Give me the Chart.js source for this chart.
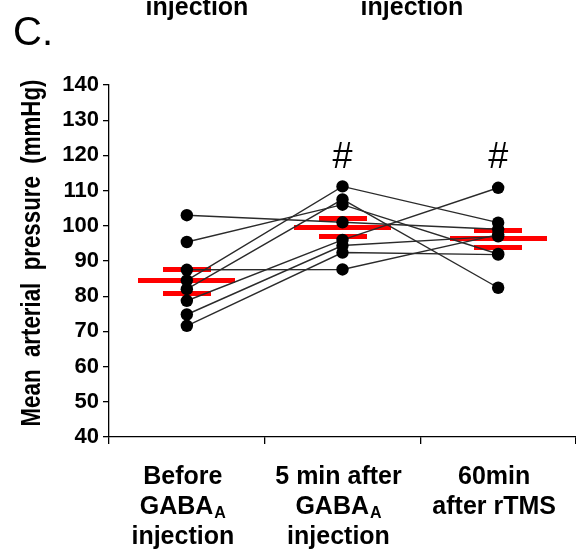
<!DOCTYPE html>
<html>
<head>
<meta charset="utf-8">
<script src="https://cdn.jsdelivr.net/npm/chart.js@4.4.1/dist/chart.umd.min.js"></script>
<style>
  body { margin: 0; background: #fff; }
  canvas { display: block; }
</style>
</head>
<body>
<canvas id="chart" width="576" height="551"></canvas>
<script>
// groups on the x axis
const categories = ['Before GABAA injection', '5 min after GABAA injection', '60min after rTMS'];
// label lines: [text, subscript]
const labelLines = [
  [['Before', ''], ['GABA', 'A'], ['injection', '']],
  [['5 min after', ''], ['GABA', 'A'], ['injection', '']],
  [['60min', ''], ['after rTMS', '']]
];

// one array per animal (mmHg)
const subject1 = [103.0, 101.0, 99.0];
const subject2 = [95.4, 106.0, 92.0];
const subject3 = [84.5, 111.2, 100.9];
const subject4 = [87.5, 87.6, 97.5];
const subject5 = [82.0, 107.5, 82.4];
const subject6 = [78.7, 96.0, 110.8];
const subject7 = [74.8, 94.4, 97.0];
const subject8 = [71.6, 92.4, 91.8];
const subjects = [subject1, subject2, subject3, subject4, subject5, subject6, subject7, subject8];

// group mean and mean +/- SEM
const meanValues = [84.6, 99.6, 96.3];
const semUpper = [87.7, 102.0, 98.8];
const semLower = [80.9, 97.0, 93.8];

const yTicks = [40, 50, 60, 70, 80, 90, 100, 110, 120, 130, 140];
const hashGroups = [1, 2];   // groups marked with #
const hashLevel = 116.5;

const FONT = '"Liberation Sans", Arial, Helvetica, sans-serif';

// red horizontal bars used as point styles
function barStyle(w, h) {
  const c = document.createElement('canvas');
  c.width = w;
  c.height = h;
  const g = c.getContext('2d');
  g.fillStyle = '#ff0000';
  g.fillRect(0, 0, w, h);
  return c;
}
const meanBar = barStyle(97, 5);
const semBar = barStyle(48, 5);

const textPlugin = {
  id: 'panelText',
  afterDraw(chart) {
    const ctx = chart.ctx;
    const xs = chart.scales.x;
    const ys = chart.scales.y;
    const bottom = chart.chartArea.bottom;
    ctx.save();
    ctx.fillStyle = '#000';
    ctx.textBaseline = 'alphabetic';

    // category labels with subscripts
    labelLines.forEach(function(lines, i) {
      const cx = xs.getPixelForValue(i) - 4;
      lines.forEach(function(parts, j) {
        const base = bottom + 47 + j * 30;
        ctx.font = 'bold 25px ' + FONT;
        const w1 = ctx.measureText(parts[0]).width;
        ctx.font = 'bold 16px ' + FONT;
        const w2 = parts[1] ? ctx.measureText(parts[1]).width + 1 : 0;
        let left = cx - (w1 + w2) / 2;
        ctx.textAlign = 'left';
        ctx.font = 'bold 25px ' + FONT;
        ctx.fillText(parts[0], left, base);
        if (parts[1]) {
          ctx.font = 'bold 16px ' + FONT;
          ctx.fillText(parts[1], left + w1 + 1, base + 4);
        }
      });
    });

    // significance marks
    ctx.textAlign = 'center';
    ctx.font = '36px ' + FONT;
    hashGroups.forEach(function(i) {
      ctx.fillText('#', xs.getPixelForValue(i), ys.getPixelForValue(hashLevel));
    });

    // panel letter and cut-off labels of the panel above
    ctx.textAlign = 'left';
    ctx.font = '40px ' + FONT;
    ctx.fillText('C.', 13, 45);
    ctx.textAlign = 'center';
    ctx.font = 'bold 25px ' + FONT;
    ctx.fillText('injection', 197, 15);
    ctx.fillText('injection', 412, 15);

    // y title, a bit condensed like the original
    const title = 'Mean  arterial  pressure  (mmHg)';
    ctx.font = 'bold 28px ' + FONT;
    const tw = ctx.measureText(title).width;
    ctx.translate(40, 253);
    ctx.rotate(-Math.PI / 2);
    ctx.scale(347 / tw, 1);
    ctx.fillText(title, 0, 0);
    ctx.restore();
  }
};

const datasets = subjects.map(function(s) {
  return {
    data: s,
    borderColor: '#2b2b2b',
    borderWidth: 1.4,
    pointRadius: 6.2,
    pointHoverRadius: 6.2,
    pointBackgroundColor: '#000',
    pointBorderWidth: 0,
    tension: 0,
    order: 1
  };
});
datasets.push({
  data: meanValues, showLine: false, pointStyle: meanBar,
  pointRadius: 2, pointHoverRadius: 2, pointBorderWidth: 0, order: 2
});
[semUpper, semLower].forEach(function(v) {
  datasets.push({
    data: v, showLine: false, pointStyle: semBar,
    pointRadius: 2, pointHoverRadius: 2, pointBorderWidth: 0, order: 2
  });
});

new Chart(document.getElementById('chart').getContext('2d'), {
  type: 'line',
  data: { labels: categories, datasets: datasets },
  options: {
    responsive: false,
    animation: false,
    devicePixelRatio: 1,
    layout: { autoPadding: false, padding: { top: 85, right: 0, bottom: 0, left: 0 } },
    plugins: { legend: { display: false }, tooltip: { enabled: false } },
    scales: {
      x: {
        type: 'category',
        offset: true,
        grid: { offset: true, drawOnChartArea: false, tickLength: 7, color: '#000', lineWidth: 1.3 },
        border: { color: '#000', width: 1.3 },
        ticks: { display: false },
        afterFit: function(s) { s.height = 114; }
      },
      y: {
        min: 40,
        max: 140,
        afterBuildTicks: function(s) { s.ticks = yTicks.map(function(v) { return { value: v }; }); },
        ticks: { color: '#000', padding: 4, font: { family: FONT, size: 22, weight: 'bold' } },
        grid: { drawOnChartArea: false, tickLength: 6, color: '#000', lineWidth: 1.3 },
        border: { color: '#000', width: 1.3 },
        afterFit: function(s) { s.width = 109; }
      }
    }
  },
  plugins: [textPlugin]
});
</script>
</body>
</html>
